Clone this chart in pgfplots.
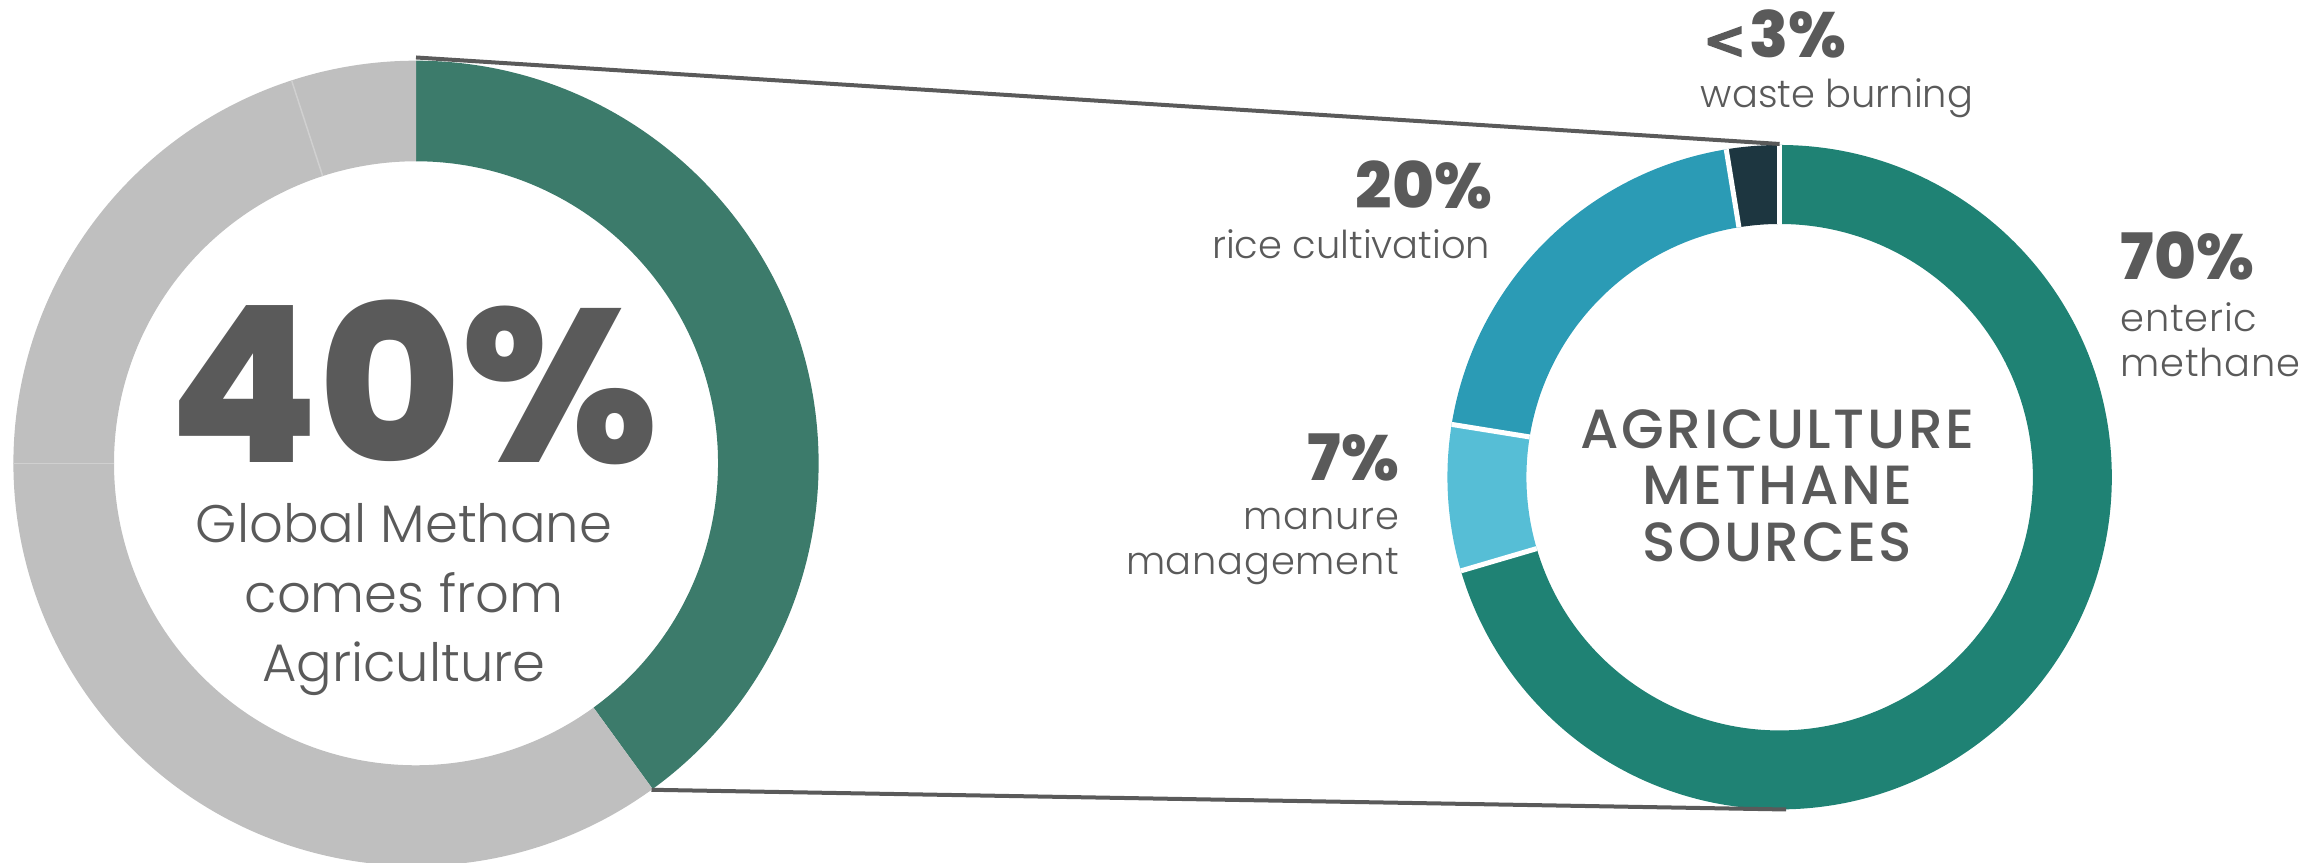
\documentclass[border=0pt]{standalone}
\usepackage{pgfplots}
\pgfplotsset{compat=1.18}
\usepackage{pgfplotstable}
\usepackage{fontspec}
\setmainfont{Poppins}
\newfontfamily\fblack{Poppins ExtraBold}
\newfontfamily\flight{Poppins Light}
\newfontfamily\flightw{Poppins Light}[LetterSpace=2]
\newfontfamily\fmed{Poppins Medium}[LetterSpace=4.5]
\newfontfamily\fdv{DejaVu Sans Bold}[FakeBold=2.5]

\definecolor{txt}{HTML}{5A5A5A}
\definecolor{conn}{HTML}{5A5A5A}
\definecolor{lgreen}{HTML}{3C7B6B}
\definecolor{lgray}{HTML}{BFBFBF}
\definecolor{enteric}{HTML}{1F8274}
\definecolor{manure}{HTML}{56BED6}
\definecolor{rice}{HTML}{2B9BB5}
\definecolor{waste}{HTML}{1D3640}
\definecolor{sepgray}{HTML}{D0D0D0}

% share of global methane (clockwise from 12 o'clock)
\pgfplotstableread{
share color sep sepcolor
40 lgreen 0 white
35 lgray 0 white
20 lgray 1.5 sepgray
5 lgray 1.5 sepgray
}\globaldata

% agriculture methane sources (clockwise from 12 o'clock)
\pgfplotstableread{
share color sep sepcolor
70.45 enteric 5 white
7.09 manure 5 white
19.89 rice 5 white
2.57 waste 5 white
}\agridata

% annular sector: cx cy rin rout a1 a2 color
\newcommand\seg[7]{%
  \pgfmathsetmacro\xa{#1+#4*cos(#5)}%
  \pgfmathsetmacro\ya{#2+#4*sin(#5)}%
  \pgfmathsetmacro\xb{#1+#3*cos(#6)}%
  \pgfmathsetmacro\yb{#2+#3*sin(#6)}%
  \pgfmathsetmacro\ro{#4/4}%
  \pgfmathsetmacro\ri{#3/4}%
  \edef\tmp{\noexpand\path[fill=#7] (axis cs:\xa,\ya) arc[start angle=#5,end angle=#6,radius=\ro pt] -- (axis cs:\xb,\yb) arc[start angle=#6,end angle=#5,radius=\ri pt] -- cycle;}%
  \tmp
}
% separator: cx cy rin rout angle width color
\newcommand\sepline[7]{%
  \pgfmathsetmacro\xa{#1+#3*cos(#5)}%
  \pgfmathsetmacro\ya{#2+#3*sin(#5)}%
  \pgfmathsetmacro\xb{#1+#4*cos(#5)}%
  \pgfmathsetmacro\yb{#2+#4*sin(#5)}%
  \pgfmathsetmacro\lw{#6/4}%
  \edef\tmp{\noexpand\draw[line width=\lw pt, #7] (axis cs:\xa,\ya) -- (axis cs:\xb,\yb);}%
  \tmp
}
% donut: table cx cy rin rout
\newcommand\donut[5]{%
  \pgfplotstablegetrowsof{#1}%
  \pgfmathtruncatemacro\nlast{\pgfplotsretval-1}%
  \gdef\cum{0}%
  \foreach \i in {0,...,\nlast}{%
    \pgfplotstablegetelem{\i}{share}\of{#1}\let\segval\pgfplotsretval
    \pgfplotstablegetelem{\i}{color}\of{#1}\let\segcol\pgfplotsretval
    \pgfmathsetmacro\aone{90-3.6*\cum}%
    \pgfmathsetmacro\atwo{90-3.6*(\cum+\segval)}%
    \pgfmathsetmacro\nc{\cum+\segval}\global\let\cum\nc
    \seg{#2}{#3}{#4}{#5}{\aone}{\atwo}{\segcol}%
  }%
  \gdef\cum{0}%
  \foreach \i in {0,...,\nlast}{%
    \pgfplotstablegetelem{\i}{share}\of{#1}\let\segval\pgfplotsretval
    \pgfplotstablegetelem{\i}{sep}\of{#1}\let\segsep\pgfplotsretval
    \pgfplotstablegetelem{\i}{sepcolor}\of{#1}\let\segsepc\pgfplotsretval
    \pgfmathsetmacro\aone{90-3.6*\cum}%
    \pgfmathsetmacro\nc{\cum+\segval}\global\let\cum\nc
    \pgfmathparse{\segsep>0}%
    \ifnum\pgfmathresult=1 \sepline{#2}{#3}{#4}{#5}{\aone}{\segsep}{\segsepc}\fi
  }%
}

\newcommand\lt{{\fdv\fontsize{13}{13}\selectfont <}\kern0.05em}

\begin{document}
\begin{tikzpicture}
\begin{axis}[
  x=0.25pt, y=0.25pt,
  xmin=0, xmax=2318, ymin=0, ymax=863,
  hide axis, clip=true,
]
\donut{\globaldata}{416}{399.7}{302}{402.6}
\donut{\agridata}{1779.6}{385.8}{253.2}{332.2}

\draw[line width=1pt, conn] (axis cs:416,805.5) -- (axis cs:1779.6,719);
\draw[line width=1pt, conn] (axis cs:651.5,73.2) -- (axis cs:1786,53.5);

% left centre text
\node[anchor=base, inner sep=0, text depth=0pt, text=txt, font=\fblack\fontsize{54.5}{54.5}\selectfont] at (axis cs:413.5,400) {40\%};
\node[anchor=base, inner sep=0, text height=0.75em, text=txt, font=\flight\fontsize{13.2}{14}\selectfont] at (axis cs:404,320) {Global Methane};
\node[anchor=base, inner sep=0, text height=0.75em, text=txt, font=\flight\fontsize{13.2}{14}\selectfont] at (axis cs:404,250) {comes from};
\node[anchor=base, inner sep=0, text height=0.75em, text=txt, font=\flight\fontsize{13.2}{14}\selectfont] at (axis cs:404,181) {Agriculture};

% right centre text
\node[anchor=base, inner sep=0, text=txt, font=\fmed\fontsize{13.8}{14}\selectfont] at (axis cs:1777.5,414) {AGRICULTURE};
\node[anchor=base, inner sep=0, text=txt, font=\fmed\fontsize{13.8}{14}\selectfont] at (axis cs:1777.5,358) {METHANE};
\node[anchor=base, inner sep=0, text=txt, font=\fmed\fontsize{13.8}{14}\selectfont] at (axis cs:1777.5,301) {SOURCES};

% labels
\node[anchor=base west, inner sep=0, text depth=0pt, text=txt, font=\fblack\fontsize{16}{16}\selectfont] at (axis cs:1702,805) {\lt3\%};
\node[anchor=base west, inner sep=0, text=txt, font=\flight\fontsize{9.6}{10}\selectfont] at (axis cs:1700,755) {waste burning};

\node[anchor=base east, inner sep=0, text depth=0pt, text=txt, font=\fblack\fontsize{16}{16}\selectfont] at (axis cs:1493,654) {20\%};
\node[anchor=base east, inner sep=0, text=txt, font=\flight\fontsize{9.6}{10}\selectfont] at (axis cs:1491,604) {rice cultivation};

\node[anchor=base east, inner sep=0, text depth=0pt, text=txt, font=\fblack\fontsize{16}{16}\selectfont] at (axis cs:1400,382) {7\%};
\node[anchor=base east, inner sep=0, text=txt, font=\flightw\fontsize{9.6}{10}\selectfont] at (axis cs:1400,333) {manure};
\node[anchor=base east, inner sep=0, text=txt, font=\flightw\fontsize{9.6}{10}\selectfont] at (axis cs:1400,288) {management};

\node[anchor=base west, inner sep=0, text depth=0pt, text=txt, font=\fblack\fontsize{16}{16}\selectfont] at (axis cs:2120,583) {70\%};
\node[anchor=base west, inner sep=0, text=txt, font=\flightw\fontsize{9.6}{10}\selectfont] at (axis cs:2120,531) {enteric};
\node[anchor=base west, inner sep=0, text=txt, font=\flightw\fontsize{9.6}{10}\selectfont] at (axis cs:2120,486) {methane};
\end{axis}
\pgfresetboundingbox
\useasboundingbox (current axis.south west) rectangle (current axis.north east);
\end{tikzpicture}
\end{document}
